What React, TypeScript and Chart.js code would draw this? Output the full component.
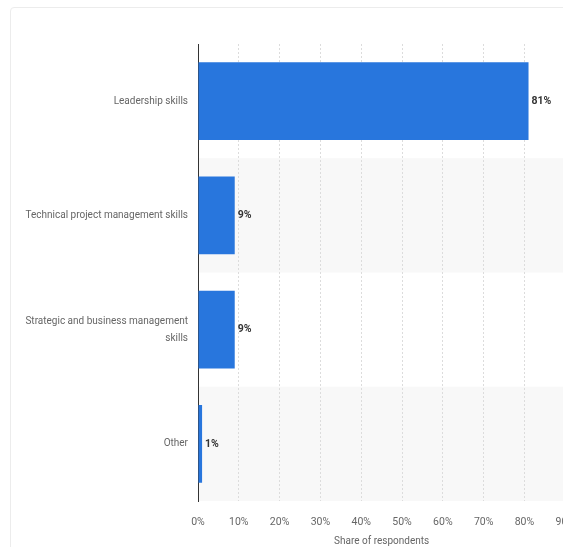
import React, { useEffect, useRef } from "react";
import { Chart, registerables } from "chart.js";

Chart.register(...registerables);

const categories: (string | string[])[] = [
  "Leadership skills",
  "Technical project management skills",
  ["Strategic and business management", "skills"],
  "Other",
];
const shares: number[] = [81, 9, 9, 1];
const xTicks: number[] = [0, 10, 20, 30, 40, 50, 60, 70, 80, 90];
const axisTitle = "Share of respondents";

const FONT = "Roboto, 'Liberation Sans', sans-serif";

const bandPlugin = {
  id: "bands",
  beforeDraw(chart: any) {
    const { ctx, chartArea, scales } = chart;
    const y = scales.y;
    const n = categories.length;
    const band = (chartArea.bottom - chartArea.top) / n;
    ctx.save();
    ctx.fillStyle = "#f8f8f8";
    for (let i = 0; i < n; i++) {
      if (i % 2 === 1) {
        const c = y.getPixelForValue(i);
        ctx.fillRect(chartArea.left, c - band / 2, chart.width - chartArea.left, band);
      }
    }
    ctx.restore();
  },
};

const labelPlugin = {
  id: "valueLabels",
  afterDatasetsDraw(chart: any) {
    const { ctx } = chart;
    const meta = chart.getDatasetMeta(0);
    ctx.save();
    ctx.font = `bold 10.5px ${FONT}`;
    ctx.fillStyle = "#333333";
    ctx.textAlign = "left";
    ctx.textBaseline = "middle";
    meta.data.forEach((bar: any, i: number) => {
      ctx.fillText(shares[i] + "%", bar.x + 3, bar.y);
    });
    ctx.restore();
  },
};

export default function App() {
  const ref = useRef<HTMLCanvasElement>(null);
  useEffect(() => {
    if (!ref.current) return;
    const chart = new Chart(ref.current, {
      type: "bar",
      data: {
        labels: categories as any,
        datasets: [
          {
            data: shares,
            backgroundColor: "#2876dd",
            barPercentage: 0.68,
            categoryPercentage: 1,
          },
        ],
      },
      options: {
        indexAxis: "y",
        animation: false,
        responsive: false,
        devicePixelRatio: 1,
        layout: { padding: { top: 44, right: 16, left: 0, bottom: 0 } },
        plugins: { legend: { display: false }, tooltip: { enabled: false } },
        scales: {
          x: {
            min: 0,
            max: 90,
            afterFit(scale: any) {
              scale.height = 46;
            },
            afterBuildTicks(scale: any) {
              scale.ticks = xTicks.map((v) => ({ value: v }));
            },
            ticks: {
              padding: 15,
              color: "#666666",
              font: { family: FONT, size: 10.5 },
              callback: (v: any) => v + "%",
            },
            grid: {
              color: "#dcdcdc",
              drawTicks: false,
            },
            border: { display: false, dash: [2, 2] },
            title: {
              display: true,
              text: axisTitle,
              color: "#666666",
              font: { family: FONT, size: 10 },
              padding: { top: 2, bottom: 0 },
            },
          },
          y: {
            afterFit(scale: any) {
              scale.width = 198;
            },
            ticks: {
              padding: 10,
              color: "#666666",
              font: { family: FONT, size: 10, lineHeight: 1.7 },
            },
            grid: { display: false, drawTicks: false },
            border: { display: true, color: "#333333", width: 1 },
          },
        },
      },
      plugins: [bandPlugin, labelPlugin],
    });
    return () => chart.destroy();
  }, []);

  return (
    <div
      style={{
        position: "fixed",
        left: 0,
        top: 0,
        width: 563,
        height: 547,
        overflow: "hidden",
        background: "#fff",
      }}
    >
      <div
        style={{
          position: "absolute",
          left: 10,
          top: 7,
          width: 620,
          height: 620,
          border: "1px solid #ececec",
          borderRadius: 4,
        }}
      />
      <canvas
        ref={ref}
        width={590}
        height={547}
        style={{ position: "absolute", left: 0, top: 0 }}
      />
    </div>
  );
}
